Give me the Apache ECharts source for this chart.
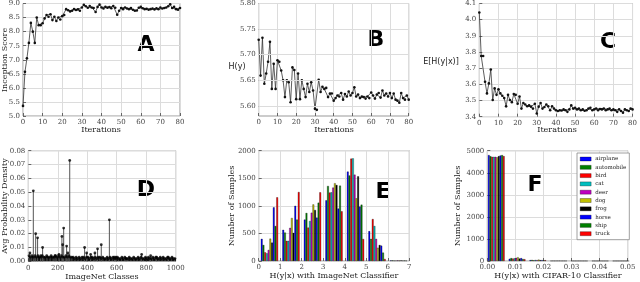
<!DOCTYPE html>
<html><head><meta charset="utf-8">
<script src="https://cdn.jsdelivr.net/npm/echarts@6/dist/echarts.min.js"></script>
<style>html,body{margin:0;padding:0;background:#fff}#c{width:640px;height:282px}</style>
</head><body><div id="c"></div>
<script>
// ---------- DATA ----------
// Panel A: Inception score per iteration (0..80)
const aScore = [5.36,6.57,7.05,7.60,8.31,8.00,7.60,8.50,8.23,8.23,8.30,8.47,8.59,8.53,8.62,8.41,8.53,8.38,8.50,8.43,8.55,8.59,
8.80,8.76,8.72,8.74,8.80,8.77,8.79,8.74,8.86,8.95,8.90,8.85,8.91,8.86,8.84,8.70,8.88,8.96,8.86,8.82,8.88,8.85,8.87,8.83,8.91,8.85,8.60,8.74,
8.84,8.80,8.86,8.82,8.80,8.84,8.78,8.74,8.75,8.85,8.88,8.83,8.80,8.81,8.78,8.80,8.82,8.79,8.83,8.80,8.86,8.82,8.84,8.86,8.90,8.97,8.84,8.88,8.80,8.78,8.84];
// Panel B: H(y)
const bHy = [5.729,5.659,5.733,5.643,5.663,5.686,5.725,5.633,5.682,5.633,5.689,5.686,5.669,5.650,5.617,5.650,5.646,5.607,5.675,5.670,
5.613,5.663,5.613,5.650,5.633,5.617,5.643,5.627,5.646,5.630,5.594,5.592,5.651,5.627,5.637,5.633,5.635,5.617,5.624,5.624,
5.610,5.615,5.620,5.618,5.625,5.612,5.623,5.618,5.628,5.620,5.625,5.636,5.618,5.622,5.615,5.618,5.617,5.614,5.618,5.615,
5.626,5.620,5.614,5.622,5.625,5.616,5.630,5.620,5.624,5.618,5.625,5.615,5.624,5.612,5.610,5.606,5.625,5.615,5.612,5.620,5.612];
// Panel C: E[H(y|x)]
const cEHyx = [4.044,3.775,3.775,3.616,3.544,3.606,3.692,3.503,3.575,3.535,3.569,3.544,3.530,3.515,3.464,3.535,3.503,3.490,3.540,3.535,
3.480,3.525,3.450,3.485,3.475,3.465,3.470,3.462,3.450,3.480,3.420,3.462,3.485,3.450,3.460,3.475,3.465,3.440,3.465,3.450,
3.440,3.435,3.440,3.438,3.445,3.440,3.430,3.445,3.470,3.450,3.455,3.445,3.450,3.440,3.445,3.437,3.440,3.450,3.455,3.440,
3.445,3.450,3.440,3.448,3.445,3.450,3.440,3.445,3.450,3.440,3.445,3.440,3.430,3.445,3.435,3.425,3.445,3.440,3.435,3.450,3.445];
// Panel D: average probability density over ImageNet classes
const dSpikeClasses = [11,34,50,63,84,97,181,208,228,233,240,260,268,281,382,396,423,452,470,495,550,584,595,663,769,830,871,950];
const dSpikeValues  = [0.006,0.051,0.020,0.017,0.004,0.010,0.004,0.005,0.018,0.012,0.024,0.011,0.006,0.073,0.010,0.006,0.005,0.006,0.009,0.012,0.030,0.003,0.003,0.002,0.005,0.004,0.003,0.003];
const dBgClasses = [5,15,25,35,45,55,65,75,85,95,105,115,125,135,145,155,165,175,185,195,205,215,225,235,245,255,265,275,285,295,
305,315,325,335,345,355,365,375,385,395,405,415,425,435,445,455,465,475,485,495,505,515,525,535,545,555,565,575,585,595,
605,615,625,635,645,655,665,675,685,695,705,715,725,735,745,755,765,775,785,795,805,815,825,835,845,855,865,875,885,895,
905,915,925,935,945,955,965,975,985,995];
const dBgValues = [0.004,0.003,0.004,0.003,0.004,0.003,0.004,0.003,0.003,0.004,0.003,0.003,0.004,0.003,0.003,0.004,0.003,0.003,0.004,0.003,
0.004,0.003,0.004,0.003,0.003,0.004,0.003,0.004,0.003,0.003,0.003,0.002,0.003,0.002,0.003,0.002,0.003,0.003,0.002,0.003,
0.003,0.002,0.003,0.003,0.002,0.003,0.002,0.003,0.003,0.002,0.003,0.002,0.002,0.003,0.002,0.003,0.002,0.003,0.002,0.002,
0.003,0.002,0.002,0.003,0.002,0.003,0.002,0.002,0.003,0.002,0.002,0.003,0.002,0.002,0.003,0.002,0.003,0.002,0.002,0.003,
0.002,0.003,0.002,0.002,0.003,0.002,0.003,0.002,0.002,0.003,0.002,0.003,0.002,0.002,0.003,0.002,0.002,0.003,0.002,0.002];
// Panels E/F: class names
const classNames = ['airplane','automobile','bird','cat','deer','dog','frog','horse','ship','truck'];
// Panel E: histogram of H(y|x) with ImageNet classifier; bin centres and counts per class
const eBinCenters = [0.5,1.5,2.5,3.5,4.5,5.5,6.5];
const eAirplane   = [400,565,750,1100,1620,540,10];
const eAutomobile = [290,515,870,1360,1550,400,10];
const eBird       = [157,365,605,1240,1855,760,8];
const eCat        = [139,365,725,1245,1860,634,8];
const eDeer       = [200,600,875,1330,1565,400,10];
const eDog        = [405,780,1025,1410,1136,240,8];
const eFrog       = [332,510,925,1378,1535,290,10];
const eHorse      = [973,1000,785,950,985,278,8];
const eShip       = [634,750,1057,1365,1021,151,8];
const eTruck      = [1154,1250,1245,900,399,36,6];
// Panel F: histogram of H(y|x) with CIFAR-10 classifier
const fBinCenters = [0.0032,0.0106,0.0180,0.0254,0.0328,0.0402,0.0476];
const fAirplane   = [4800,100,40,8,5,4,3];
const fAutomobile = [4750,130,50,10,6,4,3];
const fBird       = [4720,110,30,8,5,3,3];
const fCat        = [4720,120,45,9,5,4,3];
const fDeer       = [4720,140,40,10,6,4,3];
const fDog        = [4700,170,60,12,6,5,4];
const fFrog       = [4750,110,35,8,5,4,3];
const fHorse      = [4780,130,40,9,5,4,3];
const fShip       = [4800,90,30,8,5,3,3];
const fTruck      = [4750,80,35,7,4,3,2];
// tick settings
const aYTicks = [5.0,9.0,0.5];
const bYLabels = [5.60,5.65,5.70,5.75,5.80];

// ---------- CHART ----------
const colors = ['#0000ff','#008000','#ff0000','#00bfbf','#bf00bf','#bfbf00','#000000','#0000ff','#008000','#ff0000'];
const eAll = [eAirplane,eAutomobile,eBird,eCat,eDeer,eDog,eFrog,eHorse,eShip,eTruck];
const fAll = [fAirplane,fAutomobile,fBird,fCat,fDeer,fDog,fFrog,fHorse,fShip,fTruck];
const SERIF = '"DejaVu Serif", serif';
const SANS = '"DejaVu Sans", sans-serif';
const tickLbl = {fontFamily: SERIF, fontSize: 7, color: '#444', margin: 3};
const gridCol = '#dcdcdc';

function grid(l, t, w, h) {
  return {left: l, top: t, width: w, height: h, show: true, borderColor: '#999', borderWidth: 1, backgroundColor: '#fff', containLabel: false};
}
function vAxis(gi, min, max, interval, fmt, extra) {
  return Object.assign({
    type: 'value', gridIndex: gi, min: min, max: max, interval: interval,
    axisLine: {show: false}, axisTick: {show: true, inside: true, length: 3, lineStyle: {color: '#666'}},
    splitLine: {show: true, lineStyle: {color: gridCol, width: 1}},
    axisLabel: Object.assign({}, tickLbl, {formatter: fmt, showMinLabel: true, showMaxLabel: true})
  }, extra || {});
}
const grids = [
  grid(23, 3.3, 157, 112.7),
  grid(258.7, 3.3, 150, 112.7),
  grid(479.3, 3.3, 154.7, 113.4),
  grid(28.3, 150.7, 147.4, 110.6),
  grid(258.7, 150.7, 150.6, 110.3),
  grid(487.3, 150.7, 140.4, 110.3)
];
const xAxes = [
  vAxis(0, 0, 80, 10, v => String(v)),
  vAxis(1, 0, 80, 10, v => String(v)),
  vAxis(2, 0, 80, 10, v => String(v)),
  vAxis(3, 0, 1000, 200, v => String(v)),
  vAxis(4, 0, 7, 1, v => String(v)),
  vAxis(5, 0, 0.05, 0.01, v => v.toFixed(2))
];
const yAxes = [
  vAxis(0, aYTicks[0], aYTicks[1], aYTicks[2], v => v.toFixed(1)),
  vAxis(1, 5.58, 5.80, null, v => v.toFixed(2), {
    interval: undefined,
    axisLabel: Object.assign({}, tickLbl, {customValues: bYLabels, formatter: v => v.toFixed(2)}),
    axisTick: {show: true, inside: true, length: 3, customValues: bYLabels, lineStyle: {color: '#666'}}
  }),
  vAxis(2, 3.4, 4.1, 0.1, v => v.toFixed(1)),
  vAxis(3, 0, 0.08, 0.01, v => v.toFixed(2)),
  vAxis(4, 0, 2000, 500, v => String(v)),
  vAxis(5, 0, 5000, 1000, v => String(v))
];

function lineSeries(idx, arr) {
  return {
    type: 'line', xAxisIndex: idx, yAxisIndex: idx, data: arr.map((v, i) => [i, v]),
    symbol: 'circle', symbolSize: 2.6, showSymbol: true, silent: true, animation: false,
    lineStyle: {color: '#333', width: 0.8}, itemStyle: {color: '#111'}
  };
}
const series = [lineSeries(0, aScore), lineSeries(1, bHy), lineSeries(2, cEHyx)];
// B gridlines (custom tick positions)
series[1].markLine = {silent: true, symbol: 'none', label: {show: false}, animation: false,
  lineStyle: {color: gridCol, type: 'solid', width: 1}, data: bYLabels.map(v => ({yAxis: v}))};

// Panel D stems
const dBg = dBgClasses.map((c, i) => [c, dBgValues[i]]);
const dSp = dSpikeClasses.map((c, i) => [c, dSpikeValues[i]]);
series.push({type: 'bar', xAxisIndex: 3, yAxisIndex: 3, data: dBg, barWidth: 1.6, itemStyle: {color: '#111'}, animation: false, silent: true});
series.push({type: 'bar', xAxisIndex: 3, yAxisIndex: 3, data: dSp, barWidth: 1, barGap: '-100%', itemStyle: {color: '#555'}, animation: false, silent: true});
series.push({type: 'scatter', xAxisIndex: 3, yAxisIndex: 3, data: dBg.concat(dSp), symbolSize: 2.8, itemStyle: {color: '#000'}, animation: false, silent: true});

// Panels E and F histogram bars
classNames.forEach((name, k) => {
  series.push({type: 'bar', name: name, xAxisIndex: 4, yAxisIndex: 4,
    data: eBinCenters.map((x, i) => [x, eAll[k][i]]),
    barGap: '0%', barCategoryGap: '20%', itemStyle: {color: colors[k], borderColor: '#000', borderWidth: 0.3},
    animation: false, silent: true});
});
classNames.forEach((name, k) => {
  series.push({type: 'bar', name: name, xAxisIndex: 5, yAxisIndex: 5,
    data: fBinCenters.map((x, i) => [x, fAll[k][i]]),
    barGap: '0%', barCategoryGap: '20%', itemStyle: {color: colors[k], borderColor: '#000', borderWidth: 0.3},
    animation: false, silent: true});
});

function txt(x, y, s, font, opts) {
  return Object.assign({type: 'text', x: x, y: y, silent: true,
    style: {text: s, font: font, fill: '#222', align: 'center', verticalAlign: 'middle'}}, opts || {});
}
const graphics = [
  // panel letters
  txt(146, 45, 'A', 'bold 22px ' + SANS, {style: {text: 'A', font: 'bold 22px ' + SANS, fill: '#000', align: 'center', verticalAlign: 'middle'}}),
  txt(376, 40, 'B', '', {style: {text: 'B', font: 'bold 22px ' + SANS, fill: '#000', align: 'center', verticalAlign: 'middle'}}),
  txt(608, 42, 'C', '', {style: {text: 'C', font: 'bold 22px ' + SANS, fill: '#000', align: 'center', verticalAlign: 'middle'}}),
  txt(146, 190, 'D', '', {style: {text: 'D', font: 'bold 22px ' + SANS, fill: '#000', align: 'center', verticalAlign: 'middle'}}),
  txt(383, 192, 'E', '', {style: {text: 'E', font: 'bold 22px ' + SANS, fill: '#000', align: 'center', verticalAlign: 'middle'}}),
  txt(535, 185, 'F', '', {style: {text: 'F', font: 'bold 22px ' + SANS, fill: '#000', align: 'center', verticalAlign: 'middle'}}),
  // axis titles
  txt(101, 130, 'Iterations', '8px ' + SERIF),
  txt(334, 130, 'Iterations', '8px ' + SERIF),
  txt(557, 130, 'Iterations', '8px ' + SERIF),
  txt(102, 276.5, 'ImageNet Classes', '8px ' + SERIF),
  txt(334, 276, 'H(y|x) with ImageNet Classifier', '8px ' + SERIF),
  txt(558, 276, 'H(y|x) with CIFAR-10 Classifier', '8px ' + SERIF),
  txt(237, 67, 'H(y)', '8px ' + SANS),
  txt(441, 62, 'E[H(y|x)]', '8px ' + SANS),
  {type: 'text', x: 4.5, y: 60, rotation: Math.PI / 2, silent: true,
    style: {text: 'Inception Score', font: '8px ' + SERIF, fill: '#222', align: 'center', verticalAlign: 'middle'}},
  {type: 'text', x: 5, y: 206, rotation: Math.PI / 2, silent: true,
    style: {text: 'Avg Probability Density', font: '8px ' + SERIF, fill: '#222', align: 'center', verticalAlign: 'middle'}},
  {type: 'text', x: 231.5, y: 206, rotation: Math.PI / 2, silent: true,
    style: {text: 'Number of Samples', font: '8px ' + SERIF, fill: '#222', align: 'center', verticalAlign: 'middle'}},
  {type: 'text', x: 458, y: 206, rotation: Math.PI / 2, silent: true,
    style: {text: 'Number of Samples', font: '8px ' + SERIF, fill: '#222', align: 'center', verticalAlign: 'middle'}}
];

const chart = echarts.init(document.getElementById('c'), null, {renderer: 'canvas'});
chart.setOption({
  animation: false,
  grid: grids, xAxis: xAxes, yAxis: yAxes, series: series,
  legend: {
    data: classNames, orient: 'vertical', left: 577, top: 153, width: 50,
    padding: [3, 3, 3, 3], itemGap: 2.3, itemWidth: 11, itemHeight: 4, icon: 'rect',
    backgroundColor: '#fff', borderColor: '#888', borderWidth: 0.8,
    textStyle: {fontFamily: SERIF, fontSize: 5.5, color: '#222', lineHeight: 6, padding: [0, 0, 0, -1]},
    itemStyle: {borderColor: '#000', borderWidth: 0.3},
    selectedMode: false
  },
  graphic: graphics
});
</script></body></html>
